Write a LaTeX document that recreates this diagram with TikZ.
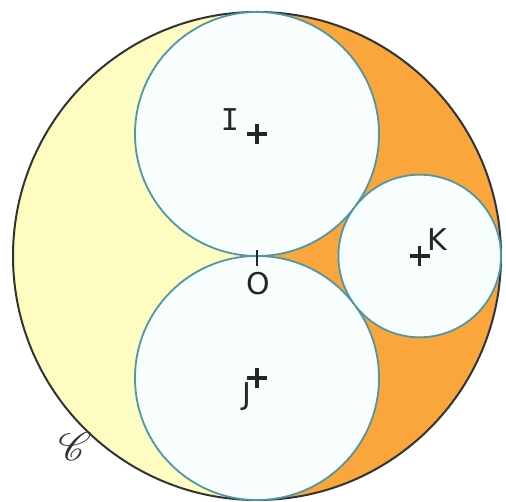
\documentclass[tikz,border=0pt]{standalone}
\usepackage{fontspec}
\usepackage{mathrsfs}
\setmainfont{DejaVu Sans}
\newfontfamily\serifI{DejaVu Sans Mono}
\definecolor{cyel}{HTML}{FFFCC2}
\definecolor{corg}{HTML}{FBA63C}
\definecolor{cin}{HTML}{F8FDFE}
\definecolor{cedge}{HTML}{4E98A2}
\definecolor{cbig}{HTML}{333333}
\begin{document}
\begin{tikzpicture}[x=1pt,y=-1pt,
  small/.style={draw=cedge,line width=1.8pt,fill=cin},
  cross/.style={line width=3.2pt,black!85},
  lbl/.style={font=\fontsize{30}{30}\selectfont,inner sep=0pt,text=black!85}]
\useasboundingbox (0,0) rectangle (506,502);
\coordinate (O) at (257,256);
\coordinate (I) at (257,134);
\coordinate (J) at (257,378);
\coordinate (K) at (419.7,256);
\begin{scope}
  \clip (O) circle (244);
  \fill[cyel] (0,0) rectangle (257,502);
  \fill[corg] (257,0) rectangle (506,502);
\end{scope}
\draw[cbig,line width=2pt] (O) circle (244);
\draw[small] (I) circle (122);
\draw[small] (J) circle (122);
\draw[small] (K) circle (81.3);
% crosses
\foreach \p in {I,J,K}{
  \draw[cross] ([xshift=-10]\p) -- ([xshift=10]\p);
  \draw[cross] ([yshift=-10]\p) -- ([yshift=10]\p);
}
\draw[line width=2pt,black!85] ([yshift=-10]O) -- ([yshift=6]O);
\node[lbl] (lI) at (230,120) {\serifI I};
\node[lbl] (lJ) at (247,397) {J};
\node[lbl] (lK) at (437,240) {K};
\node[lbl] (lO) at (258,284) {O};
\node[inner sep=0pt,text=black!80] (lC) at (75,446) {\scalebox{4}{$\mathscr{C}$}};
\end{tikzpicture}
\end{document}
